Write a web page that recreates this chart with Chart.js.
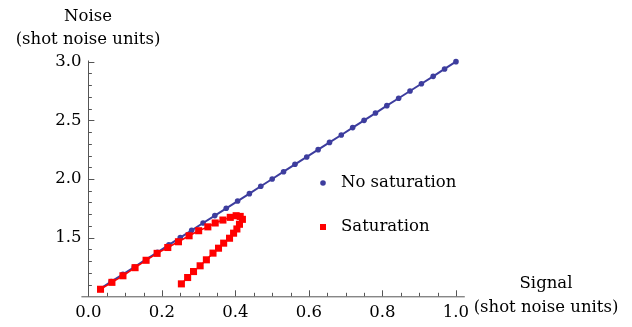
<!DOCTYPE html>
<html>
<head>
<meta charset="utf-8">
<script src="https://cdn.jsdelivr.net/npm/chart.js@4/dist/chart.umd.min.js"></script>
<style>
  html, body { margin: 0; padding: 0; background: #fff; }
  #chart { display: block; }
</style>
</head>
<body>
<canvas id="chart" width="632" height="327"></canvas>
<script>
// ─── Data ─────────────────────────────────────────────────────────────────────
const signalClean = [0.031, 0.062, 0.094, 0.125, 0.156, 0.188, 0.219, 0.250, 0.281, 0.312,
                     0.344, 0.375, 0.406, 0.438, 0.469, 0.500, 0.531, 0.562, 0.594, 0.625,
                     0.656, 0.688, 0.719, 0.750, 0.781, 0.812, 0.844, 0.875, 0.906, 0.938,
                     0.969, 1.000];
const noiseClean  = [1.062, 1.125, 1.188, 1.250, 1.312, 1.375, 1.438, 1.500, 1.562, 1.625,
                     1.688, 1.750, 1.812, 1.875, 1.938, 2.000, 2.062, 2.125, 2.188, 2.250,
                     2.312, 2.375, 2.438, 2.500, 2.562, 2.625, 2.688, 2.750, 2.812, 2.875,
                     2.938, 3.000];

const signalSat = [0.033, 0.064, 0.094, 0.127, 0.157, 0.187, 0.216, 0.245, 0.274, 0.300,
                   0.325, 0.345, 0.366, 0.386, 0.402, 0.413, 0.419, 0.411, 0.404, 0.395,
                   0.384, 0.368, 0.354, 0.339, 0.321, 0.304, 0.286, 0.270, 0.253];
const noiseSat  = [1.060, 1.119, 1.175, 1.244, 1.307, 1.366, 1.416, 1.465, 1.516, 1.559,
                   1.592, 1.625, 1.650, 1.673, 1.687, 1.681, 1.656, 1.614, 1.574, 1.538,
                   1.495, 1.453, 1.410, 1.368, 1.311, 1.260, 1.211, 1.160, 1.106];

const xTicks = [0.0, 0.2, 0.4, 0.6, 0.8, 1.0];
const yTicks = [1.5, 2.0, 2.5, 3.0];
const seriesNames = ['No saturation', 'Saturation'];

// ─── Style ────────────────────────────────────────────────────────────────────
const BLUE = '#3d3d9e';
const RED  = '#ff0000';
const AXIS = '#555555';
const FONT = '"DejaVu Serif", serif';

const toPoints = (xs, ys) => xs.map((x, i) => ({ x, y: ys[i] }));

// axes through the origin, inward ticks, titles and legend
const mmaAxes = {
  id: 'mmaAxes',
  beforeDatasetsDraw(chart) {
    const { ctx, chartArea: a, scales: { x, y } } = chart;
    const x0 = x.getPixelForValue(0);
    const y0 = y.getPixelForValue(1);
    ctx.save();
    ctx.strokeStyle = AXIS;
    ctx.lineWidth = 1;
    ctx.beginPath();
    ctx.moveTo(a.left, y0 + 0.5); ctx.lineTo(a.right, y0 + 0.5);
    ctx.moveTo(Math.round(x0) + 0.5, y0); ctx.lineTo(Math.round(x0) + 0.5, a.top);
    // x ticks
    for (let i = 0; i <= 20; i++) {
      const v = i * 0.05;
      const px = Math.round(x.getPixelForValue(v)) + 0.5;
      const len = i % 4 === 0 ? 6 : 3.5;
      ctx.moveTo(px, y0); ctx.lineTo(px, y0 - len);
    }
    // y ticks
    for (let i = 1; i <= 20; i++) {
      const v = 1 + i * 0.1;
      const py = Math.round(y.getPixelForValue(v)) + 0.5;
      const len = i % 5 === 0 ? 6 : 3.5;
      ctx.moveTo(x0, py); ctx.lineTo(x0 + len, py);
    }
    ctx.stroke();
    ctx.restore();
  },
  afterDraw(chart) {
    const { ctx } = chart;
    ctx.save();
    ctx.fillStyle = '#000';
    ctx.font = '16.5px ' + FONT;
    ctx.textAlign = 'center';
    ctx.textBaseline = 'alphabetic';
    ctx.fillText('Noise', 88, 21);
    ctx.fillText('(shot noise units)', 88, 44);
    ctx.fillText('Signal', 546, 288);
    ctx.fillText('(shot noise units)', 546, 312);

    // legend
    ctx.textAlign = 'left';
    ctx.fillStyle = BLUE;
    ctx.beginPath();
    ctx.arc(323, 183, 2.8, 0, Math.PI * 2);
    ctx.fill();
    ctx.fillStyle = RED;
    ctx.fillRect(320, 224, 6, 6);
    ctx.fillStyle = '#000';
    ctx.fillText(seriesNames[0], 341, 187);
    ctx.fillText(seriesNames[1], 341, 231);
    ctx.restore();
  }
};

new Chart(document.getElementById('chart'), {
  type: 'scatter',
  data: {
    datasets: [
      {
        label: seriesNames[1],
        data: toPoints(signalSat, noiseSat),
        showLine: true,
        borderColor: RED,
        backgroundColor: RED,
        borderWidth: 1.5,
        pointStyle: 'rect',
        pointRadius: 5,
        pointBorderWidth: 0,
        order: 0,
      },
      {
        label: seriesNames[0],
        data: toPoints(signalClean, noiseClean),
        showLine: true,
        borderColor: BLUE,
        backgroundColor: BLUE,
        borderWidth: 2,
        pointRadius: 2.8,
        pointBorderWidth: 0,
        order: 1,
      },
    ]
  },
  options: {
    responsive: false,
    animation: false,
    devicePixelRatio: 1,
    clip: false,
    layout: { padding: { top: 60.5, right: 167.2, bottom: 0, left: 0 } },
    plugins: { legend: { display: false }, tooltip: { enabled: false } },
    scales: {
      x: {
        type: 'linear', min: -0.019, max: 1.024,
        grid: { display: false, drawTicks: false },
        border: { display: false },
        afterFit: s => { s.height = 30.7; },
        afterBuildTicks: s => { s.ticks = xTicks.map(value => ({ value })); },
        ticks: {
          padding: 7, color: '#000', maxRotation: 0, autoSkip: false,
          font: { family: FONT, size: 16.5 },
          callback: v => v.toFixed(1)
        }
      },
      y: {
        type: 'linear', min: 1.0, max: 3.01,
        grid: { display: false, drawTicks: false },
        border: { display: false },
        afterFit: s => { s.width = 81.4; },
        afterBuildTicks: s => { s.ticks = yTicks.map(value => ({ value })); },
        ticks: {
          padding: 0, color: '#000', autoSkip: false,
          font: { family: FONT, size: 16.5 },
          callback: v => v.toFixed(1)
        }
      }
    }
  },
  plugins: [mmaAxes]
});
</script>
</body>
</html>
